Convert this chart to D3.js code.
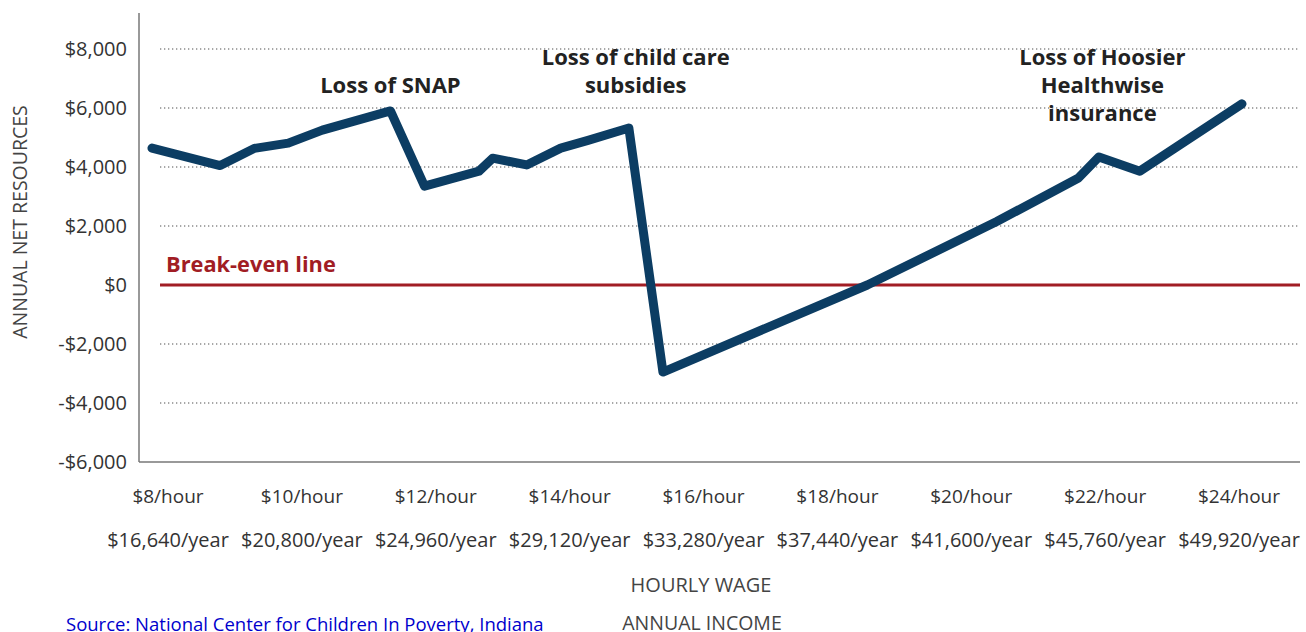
<!DOCTYPE html>
<html>
<head>
<meta charset="utf-8">
<script src="https://cdnjs.cloudflare.com/ajax/libs/d3/7.8.5/d3.min.js"></script>
<style>
    body { margin: 0; background: #fff; }
    text { font-family: "Open Sans", sans-serif; }
</style>
</head>
<body>
<div id="chart"></div>
<script>
var svgWidth = 1306;
var svgHeight = 632;

// Hourly wage and annual net resources
var wages = [8, 9, 9.5, 10, 10.5, 11.5, 12, 12.8, 13, 13.5, 14, 14.4, 15, 15.5, 18.5, 20.4, 21.6, 21.9, 22.5, 24];
var netResources = [4640, 4050, 4630, 4810, 5250, 5900, 3350, 3860, 4300, 4070, 4640, 4900, 5320, -2950, 0, 2150, 3630, 4340, 3860, 6140];

// Axis labels
var yTicks = [8000, 6000, 4000, 2000, 0, -2000, -4000, -6000];
var hourLabels = ["$8/hour", "$10/hour", "$12/hour", "$14/hour", "$16/hour", "$18/hour", "$20/hour", "$22/hour", "$24/hour"];
var yearLabels = ["$16,640/year", "$20,800/year", "$24,960/year", "$29,120/year", "$33,280/year", "$37,440/year", "$41,600/year", "$45,760/year", "$49,920/year"];

// Annotations: text lines and the wage they sit over
var noteLines = [["Loss of SNAP"], ["Loss of child care", "subsidies"], ["Loss of Hoosier", "Healthwise", "insurance"]];
var noteWages = [11.5, 15.1, 21.95];
var noteTops = [93, 65, 65];

var svg = d3.select("#chart")
    .append("svg")
    .attr("width", svgWidth)
    .attr("height", svgHeight);

// Scales
var xScale = d3.scaleLinear()
    .domain([8, 24])
    .range([152, 1242]);

var yScale = d3.scaleLinear()
    .domain([-6000, 8000])
    .range([462, 49]);

var labelScale = d3.scalePoint()
    .domain(hourLabels)
    .range([168, 1239]);

var gridLeft = 160;
var gridRight = 1300;

// Dotted gridlines
svg.append("g")
    .selectAll("line")
    .data(yTicks.filter(d => d !== 0 && d !== -6000))
    .enter()
    .append("line")
    .attr("x1", gridLeft)
    .attr("x2", gridRight)
    .attr("y1", d => yScale(d))
    .attr("y2", d => yScale(d))
    .attr("stroke", "#8a8a8a")
    .attr("stroke-width", 1.3)
    .attr("stroke-dasharray", "1.3,2.7");

// Axis frame
svg.append("line")
    .attr("x1", 139).attr("x2", 139)
    .attr("y1", 13).attr("y2", yScale(-6000))
    .attr("stroke", "#777").attr("stroke-width", 1.5);

svg.append("line")
    .attr("x1", 139).attr("x2", gridRight)
    .attr("y1", yScale(-6000)).attr("y2", yScale(-6000))
    .attr("stroke", "#777").attr("stroke-width", 1.5);

// Y axis labels
var fmt = d3.format(",");
var leftAxis = d3.axisLeft(yScale)
    .tickValues(yTicks)
    .tickSize(0)
    .tickPadding(12)
    .tickFormat(d => (d < 0 ? "-" : "") + "$" + fmt(Math.abs(d)));

var yAxisG = svg.append("g")
    .attr("transform", "translate(139,0)")
    .call(leftAxis);
yAxisG.select(".domain").remove();
yAxisG.selectAll("text")
    .attr("font-family", "Open Sans, sans-serif")
    .attr("font-size", "20px")
    .attr("fill", "#333");

svg.append("text")
    .attr("transform", "translate(27,222) rotate(-90)")
    .attr("text-anchor", "middle")
    .attr("font-size", "19.5px")
    .attr("fill", "#444")
    .text("ANNUAL NET RESOURCES");

// Break-even line
svg.append("line")
    .attr("x1", gridLeft)
    .attr("x2", gridRight)
    .attr("y1", yScale(0))
    .attr("y2", yScale(0))
    .attr("stroke", "#a11d24")
    .attr("stroke-width", 3);

svg.append("text")
    .attr("x", 166)
    .attr("y", yScale(0) - 13)
    .attr("font-size", "21.8px")
    .attr("font-weight", "bold")
    .attr("fill", "#a11d24")
    .text("Break-even line");

// Net resources line
var data = wages.map((w, i) => ({ wage: w, value: netResources[i] }));
var line = d3.line()
    .x(d => xScale(d.wage))
    .y(d => yScale(d.value));

svg.append("path")
    .datum(data)
    .attr("d", line)
    .attr("fill", "none")
    .attr("stroke", "#0c3d63")
    .attr("stroke-width", 9)
    .attr("stroke-linejoin", "round")
    .attr("stroke-linecap", "round");

// Annotations
noteLines.forEach(function (lines, i) {
    var t = svg.append("text")
        .attr("text-anchor", "middle")
        .attr("font-size", "22px")
        .attr("font-weight", "bold")
        .attr("fill", "#222");
    lines.forEach(function (s, j) {
        t.append("tspan")
            .attr("x", xScale(noteWages[i]))
            .attr("y", noteTops[i] + j * 28)
            .text(s);
    });
});

// X labels, two rows
svg.append("g")
    .selectAll("text")
    .data(hourLabels)
    .enter()
    .append("text")
    .attr("x", d => labelScale(d))
    .attr("y", 503)
    .attr("text-anchor", "middle")
    .attr("font-size", "19px")
    .attr("fill", "#333")
    .text(d => d);

svg.append("g")
    .selectAll("text")
    .data(yearLabels)
    .enter()
    .append("text")
    .attr("x", (d, i) => labelScale(hourLabels[i]))
    .attr("y", 547)
    .attr("text-anchor", "middle")
    .attr("font-size", "20px")
    .attr("fill", "#333")
    .text(d => d);

svg.append("text")
    .attr("x", 701)
    .attr("y", 592)
    .attr("text-anchor", "middle")
    .attr("font-size", "20px")
    .attr("fill", "#444")
    .text("HOURLY WAGE");

svg.append("text")
    .attr("x", 702)
    .attr("y", 630)
    .attr("text-anchor", "middle")
    .attr("font-size", "19.5px")
    .attr("fill", "#444")
    .text("ANNUAL INCOME");

// Source link
svg.append("text")
    .attr("x", 66)
    .attr("y", 631)
    .attr("font-size", "18.5px")
    .attr("fill", "#0000cc")
    .attr("text-decoration", "underline")
    .text("Source: National Center for Children In Poverty, Indiana");
</script>
</body>
</html>
